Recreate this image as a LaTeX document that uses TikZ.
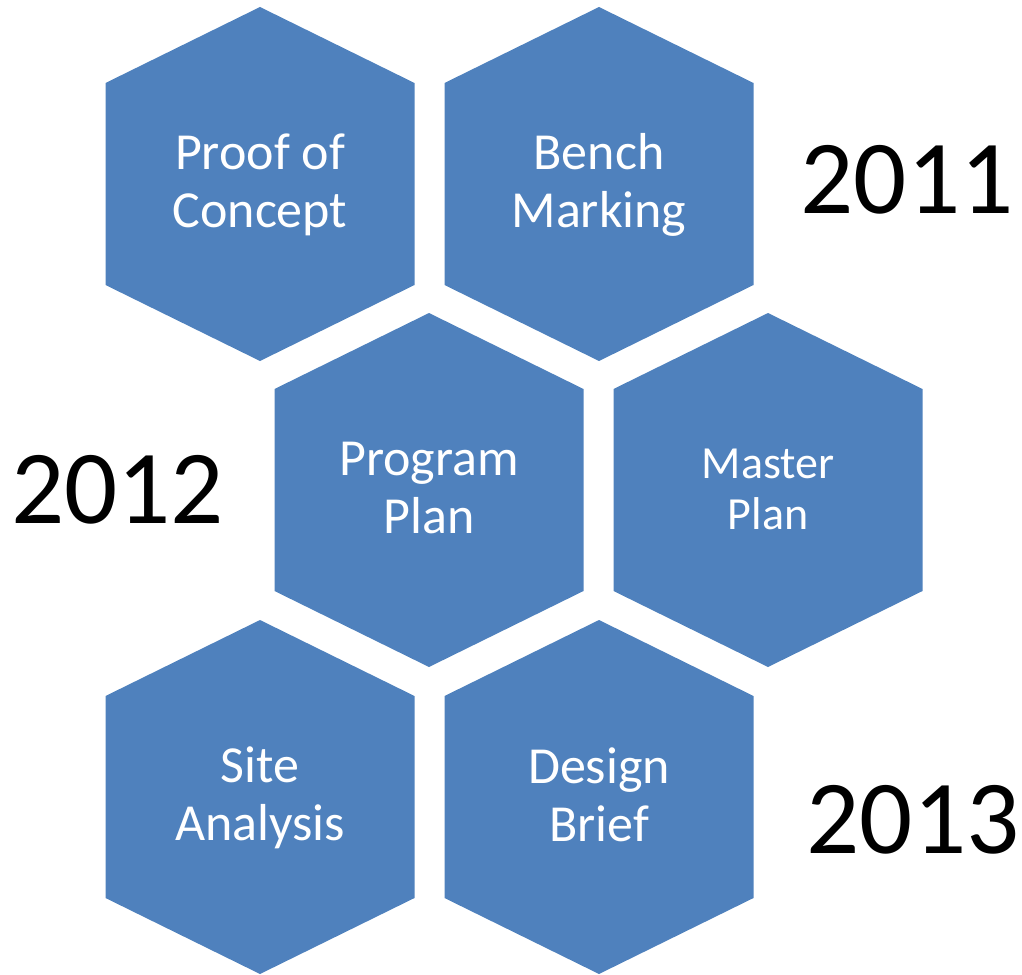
\documentclass[tikz,border=0pt]{standalone}
\usepackage{fontspec}
\setmainfont{Carlito}
\usepackage{xcolor}
\usetikzlibrary{positioning, calc, backgrounds}
\definecolor{hexblue}{RGB}{79,129,189}

\begin{document}
\begin{tikzpicture}[x=0.5pt, y=-0.5pt,
        hexfill/.style={fill=hexblue},
        hextext/.style={text=white, align=center, inner sep=0pt, font=\fontsize{26}{29}\selectfont},
        yeartext/.style={text=black, inner sep=0pt, font=\fontsize{52.5}{60}\selectfont}]
        \useasboundingbox (0,0) rectangle (1022,974);
        % hexagon labels
        \node[hextext] (poc) at (260,185) {Proof of\\Concept};
        \node[hextext] (bm) at (599,185) {Bench\\Marking};
        \node[hextext] (pp) at (429,488) {Program\\Plan};
        \node[hextext, font=\fontsize{23}{25.5}\selectfont] (mp) at (768,489) {Master\\Plan};
        \node[hextext] (sa) at (260,798) {Site\\Analysis};
        \node[hextext] (db) at (599,795) {Design\\Brief};
        % years
        \node[yeartext] (y1) at (907,180) {2011};
        \node[yeartext] (y2) at (117.5,489.5) {2012};
        \node[yeartext] (y3) at (913,820) {2013};
        \begin{scope}[on background layer]
        \fill[hexfill] (260,184) ++(0,-177) -- ++(154.5,76) -- ++(0,202) -- ++(-154.5,76) -- ++(-154.5,-76) -- ++(0,-202) -- cycle;
        \fill[hexfill] (599,184) ++(0,-177) -- ++(154.5,76) -- ++(0,202) -- ++(-154.5,76) -- ++(-154.5,-76) -- ++(0,-202) -- cycle;
        \fill[hexfill] (429,490) ++(0,-177) -- ++(154.5,76) -- ++(0,202) -- ++(-154.5,76) -- ++(-154.5,-76) -- ++(0,-202) -- cycle;
        \fill[hexfill] (768,490) ++(0,-177) -- ++(154.5,76) -- ++(0,202) -- ++(-154.5,76) -- ++(-154.5,-76) -- ++(0,-202) -- cycle;
        \fill[hexfill] (260,797) ++(0,-177) -- ++(154.5,76) -- ++(0,202) -- ++(-154.5,76) -- ++(-154.5,-76) -- ++(0,-202) -- cycle;
        \fill[hexfill] (599,797) ++(0,-177) -- ++(154.5,76) -- ++(0,202) -- ++(-154.5,76) -- ++(-154.5,-76) -- ++(0,-202) -- cycle;
        \end{scope}
\end{tikzpicture}
\end{document}
